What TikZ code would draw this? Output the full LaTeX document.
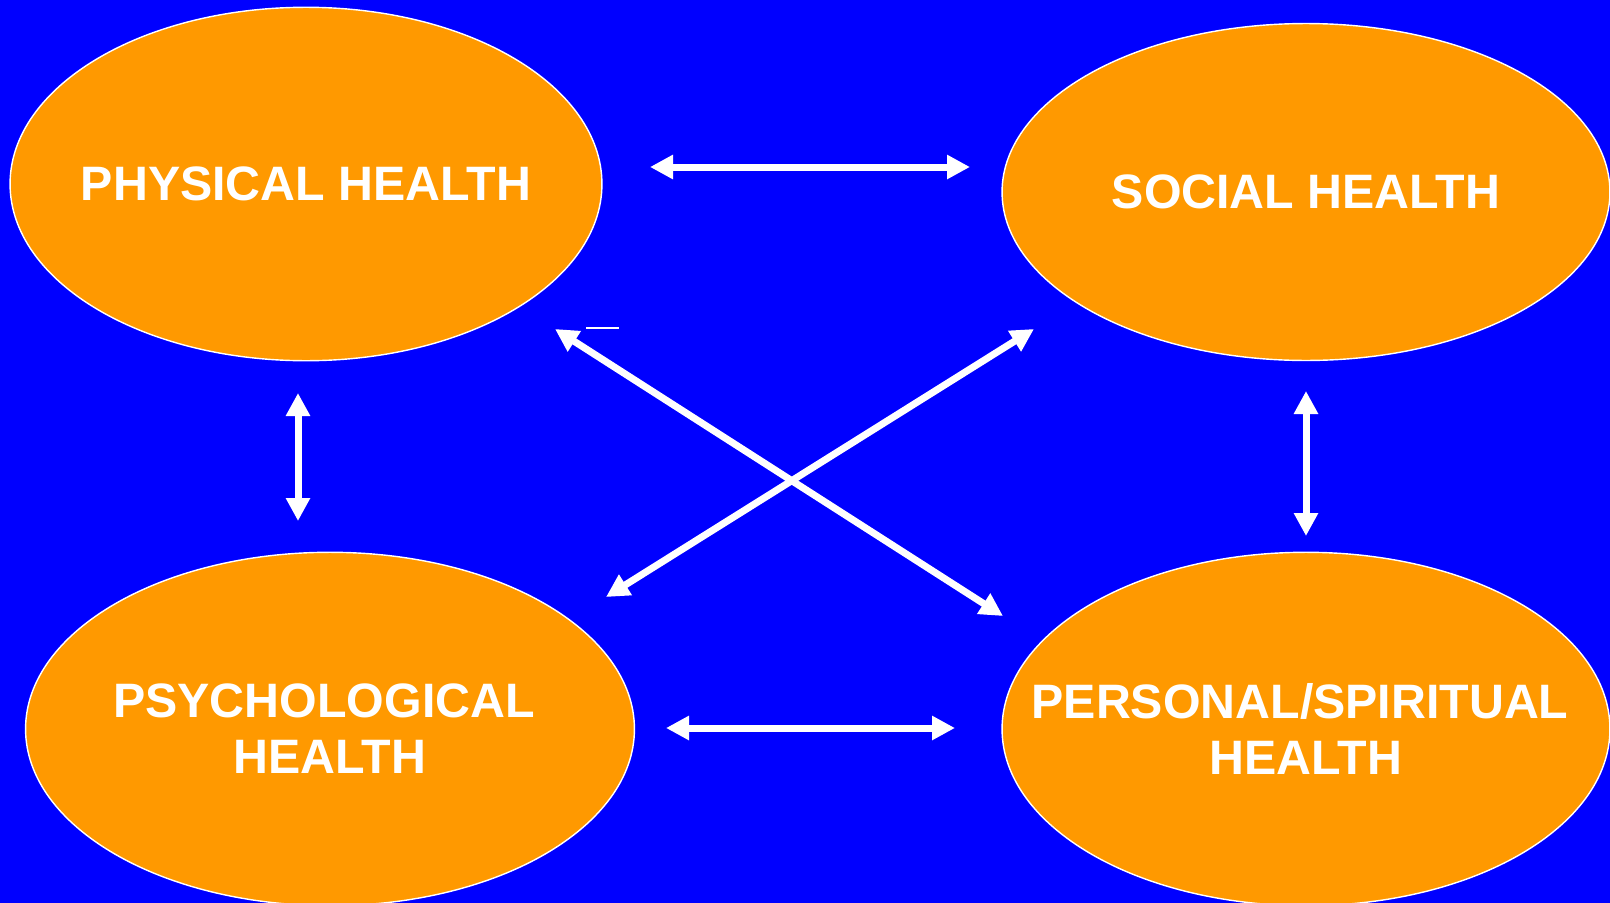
\documentclass[tikz,border=0pt]{standalone}
\usepackage{fontspec}
\setmainfont{Liberation Sans}
\usetikzlibrary{shapes.geometric,arrows.meta}
\definecolor{bgblue}{HTML}{0000FF}
\definecolor{healthorange}{HTML}{FF9900}
\begin{document}
\begin{tikzpicture}[x=0.02cm,y=-0.02cm,inner sep=0pt,outer sep=0pt,
area/.style={ellipse,draw=white,fill=healthorange,line width=0.8pt},
areatext/.style={text=white,align=center,font=\fontsize{27.5}{32}\selectfont\bfseries},
link/.style={draw=white,line width=0.14cm,{Triangle[width=0.46cm,length=0.46cm]}-{Triangle[width=0.46cm,length=0.46cm]}}]

\fill[bgblue] (0,0) rectangle (1610,903);
\useasboundingbox (0,0) rectangle (1610,903);

\node[area,minimum width=11.84cm,minimum height=7.07cm] (phys) at (306,184) {};
\node[area,minimum width=12.16cm,minimum height=6.74cm] (soc) at (1306,192) {};
\node[area,minimum width=12.18cm,minimum height=7.07cm] (psych) at (330,729) {};
\node[area,minimum width=12.16cm,minimum height=7.07cm] (pers) at (1306,729) {};
\node[areatext] (physlbl) at (phys) {PHYSICAL HEALTH};
\node[areatext] (soclbl) at (soc) {SOCIAL HEALTH};
\node[areatext] (psychlbl) at (psych) {PSYCHOLOGICAL\hspace*{0.24cm}\\HEALTH};
\node[areatext] (perslbl) at (pers) {PERSONAL/SPIRITUAL\hspace*{0.24cm}\\HEALTH};

\coordinate (ph-so1) at (650,167);
\coordinate (ph-so2) at (970,167);
\coordinate (ps-pe1) at (666,728);
\coordinate (ps-pe2) at (955,728);
\coordinate (ph-ps1) at (298,393);
\coordinate (ph-ps2) at (298,521);
\coordinate (so-pe1) at (1306,391);
\coordinate (so-pe2) at (1306,536);
\coordinate (ph-pe1) at (555,329);
\coordinate (ph-pe2) at (1003,616);
\coordinate (so-ps1) at (1034,329);
\coordinate (so-ps2) at (606,597);

\draw[link] (ph-so1) -- (ph-so2);
\draw[link] (ps-pe1) -- (ps-pe2);
\draw[link] (ph-ps1) -- (ph-ps2);
\draw[link] (so-pe1) -- (so-pe2);
\draw[link] (ph-pe1) -- (ph-pe2);
\draw[link] (so-ps1) -- (so-ps2);
\draw[white,line width=0.04cm] (586,328) -- (619,328);
\end{tikzpicture}
\end{document}
